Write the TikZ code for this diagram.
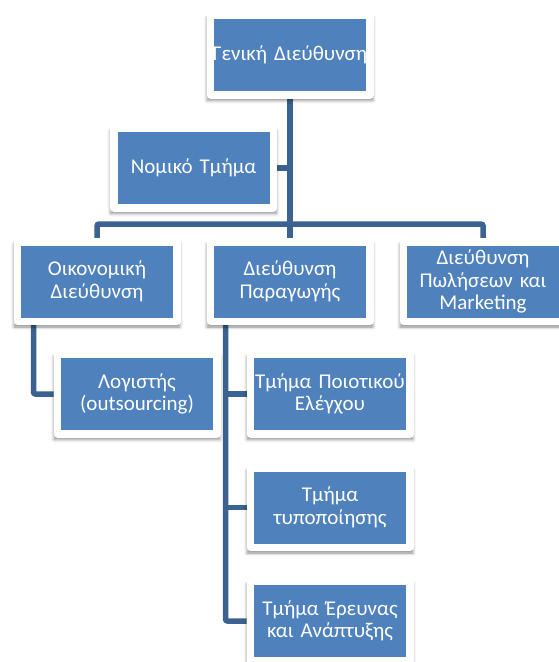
\documentclass[tikz,border=0pt]{standalone}
\usepackage{fontspec}
\setmainfont{Carlito}
\usetikzlibrary{shadows.blur,backgrounds}
\definecolor{boxblue}{RGB}{79,129,189}
\definecolor{linkblue}{RGB}{60,98,146}
\newcommand{\fitline}[1]{\makebox[\linewidth]{#1}}
\tikzset{
  orgbox/.style={rectangle,fill=boxblue,draw=white,line width=7.5pt,line join=round,
    text=white,font=\fontsize{21}{22.5}\selectfont,align=center,
    text width=152pt,inner xsep=3.75pt,inner ysep=0pt,minimum height=79.5pt,
    blur shadow={shadow xshift=0pt,shadow yshift=-4pt,shadow blur radius=3pt,
      shadow opacity=45,shadow scale=1.04}},
  link/.style={draw=linkblue,line width=5.5pt,rounded corners=2pt}
}
\begin{document}
\begin{tikzpicture}[x=1pt,y=-1pt]
            \useasboundingbox (0,0) rectangle (558,662);
            \node[orgbox] (gen) at (290,55) {\fitline{Γενική Διεύθυνση}};
            \node[orgbox] (nom) at (193.5,168) {Νομικό Τμήμα};
            \node[orgbox] (oik) at (97,281.5) {Οικονομική\\Διεύθυνση};
            \node[orgbox] (parag) at (290,281.5) {Διεύθυνση\\Παραγωγής};
            \node[orgbox] (pol) at (483,281.5) {Διεύθυνση\\Πωλήσεων και\\Marketing};
            \node[orgbox] (log) at (137,394) {Λογιστής\\(outsourcing)};
            \node[orgbox] (poiot) at (330,394) {\fitline{Τμήμα Ποιοτικού}\\Ελέγχου};
            \node[orgbox] (typo) at (330,507.5) {Τμήμα\\τυποποίησης};
            \node[orgbox] (ereuna) at (330,621) {Τμήμα Έρευνας\\και Ανάπτυξης};
            \coordinate (bar) at (290,224);
            \coordinate (oline) at ([xshift=-63.5pt]oik.south);
            \coordinate (pline) at ([xshift=-64.5pt]parag.south);
            \begin{scope}[on background layer]
                \draw[link] (gen.south) -- (parag.north);
                \draw[link] (nom.east) -- (nom.east -| gen.south);
                \draw[link] (oik.north) |- (bar) -| (pol.north);
                \draw[link] (oline) |- (log.west);
                \draw[link] (pline) |- (ereuna.west);
                \foreach \n in {poiot,typo}
                    \draw[link] (\n.west) -- (\n.west -| pline);
            \end{scope}
        \end{tikzpicture}
\end{document}
